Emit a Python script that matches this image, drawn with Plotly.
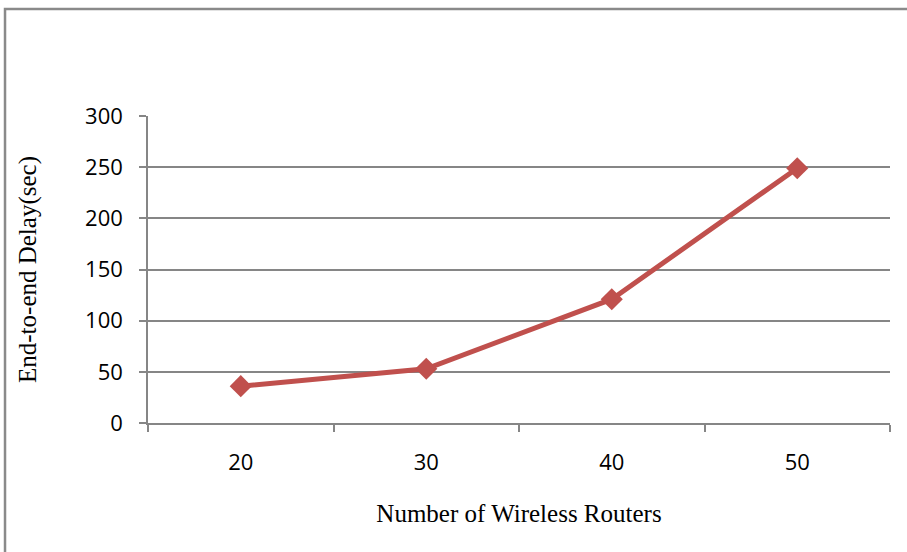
import plotly.graph_objects as go

# Delay measurements per network size
routers = ["20", "30", "40", "50"]
delay_sec = [36, 53, 121, 249]
y_ticks = [0, 50, 100, 150, 200, 250, 300]

grid_col = "#868686"
line_col = "#C0504D"

fig = go.Figure()
fig.add_trace(go.Scatter(
    x=routers, y=delay_sec, mode="lines+markers",
    line=dict(color=line_col, width=5),
    marker=dict(symbol="diamond", size=17, color=line_col),
    showlegend=False, hoverinfo="skip",
))

fig.update_layout(
    width=907, height=552,
    margin=dict(l=148, r=17, t=116, b=129),
    paper_bgcolor="white", plot_bgcolor="white",
    xaxis=dict(
        type="category", tickson="boundaries",
        showgrid=False, showline=True, linecolor=grid_col, linewidth=1.5,
        ticks="outside", ticklen=7, tickcolor=grid_col, tickwidth=1.5,
        tickfont=dict(family="Open Sans", size=22, color="black"),
        ticklabelstandoff=19,
        title=dict(text="Number of Wireless Routers",
                   font=dict(family="Liberation Serif", size=25, color="black"),
                   standoff=29),
        range=[-0.5, 3.5],
    ),
    yaxis=dict(
        range=[0, 300], tickvals=y_ticks,
        showgrid=True, gridcolor=grid_col, gridwidth=1.5,
        showline=True, linecolor=grid_col, linewidth=1.5,
        ticks="outside", ticklen=7, tickcolor=grid_col, tickwidth=1.5,
        tickfont=dict(family="Open Sans", size=22, color="black"),
        ticklabelstandoff=12,
        zeroline=False,
        title=dict(text="End-to-end Delay(sec)",
                   font=dict(family="Liberation Serif", size=25, color="black"),
                   standoff=41),
    ),
    shapes=[dict(type="rect", xref="paper", yref="paper",
                 x0=-0.1927, x1=1.1, y0=-0.5, y1=1.3485,
                 line=dict(color="#8a8a8a", width=2.5), layer="below")],
)

fig.write_html("out.html")
